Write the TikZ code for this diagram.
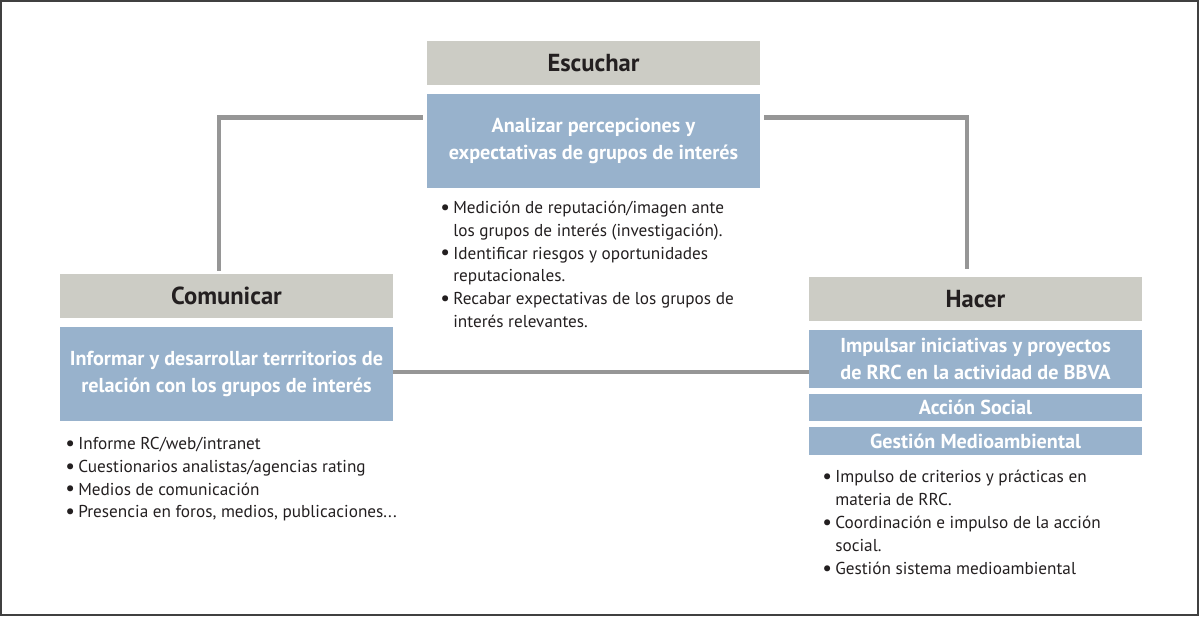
\documentclass[tikz,border=0pt]{standalone}
\usepackage{fontspec}
\setmainfont{PT Sans}
\usetikzlibrary{positioning}

\definecolor{headgray}{RGB}{204,204,197}
\definecolor{boxblue}{RGB}{152,178,204}
\definecolor{linkgray}{RGB}{150,150,150}
\definecolor{textdark}{RGB}{35,31,32}

\newcommand{\bul}{\makebox[7.4pt][l]{\raisebox{-0.5pt}{\scalebox{1.25}{\textbullet}}}}

\tikzstyle{head} = [rectangle, minimum width=6.66cm, minimum height=0.88cm, text centered, fill=headgray, text=textdark, font=\fontsize{14}{16}\selectfont\bfseries]
\tikzstyle{task} = [rectangle, minimum width=6.66cm, text centered, align=center, fill=boxblue, text=white, font=\fontsize{11.5}{15.3}\selectfont\bfseries]
\tikzstyle{items} = [anchor=north west, inner sep=0pt, text=textdark, font=\fontsize{9.8}{13}\selectfont]
\tikzstyle{link} = [line width=2.8pt, draw=linkgray]

\begin{document}
\begin{tikzpicture}[x=0.02cm, y=-0.02cm]

    \useasboundingbox (0,0) rectangle (1199,616);
    \draw [line width=0.8pt, draw=black!75] (1,1) rectangle (1198,615);

    % Nodes
    \node (eschead) [head] at (593.5,63) {Escuchar};
    \node (anabox) [task, minimum height=1.88cm] at (593.5,141) {Analizar percepciones y\\expectativas de grupos de interés};
    \node (esclist) [items] at (440,197) {\begin{tabular}{@{}l@{}l@{}}
        \bul & Medición de reputación/imagen ante\\ & los grupos de interés (investigación).\\
        \bul & Identificar riesgos y oportunidades\\ & reputacionales.\\
        \bul & Recabar expectativas de los grupos de\\ & interés relevantes.
        \end{tabular}};

    \node (comhead) [head] at (226.5,296) {Comunicar};
    \node (combox) [task, minimum height=1.88cm] at (226.5,374) {Informar y desarrollar terrritorios de\\relación con los grupos de interés};
    \node (comlist) [items] at (65,433) {\begin{tabular}{@{}l@{}l@{}}
        \bul & Informe RC/web/intranet\\
        \bul & Cuestionarios analistas/agencias rating\\
        \bul & Medios de comunicación\\
        \bul & Presencia en foros, medios, publicaciones...
        \end{tabular}};

    \node (hachead) [head] at (975.5,299) {Hacer};
    \node (hacbox) [task, minimum height=1.16cm] at (975.5,359) {Impulsar iniciativas y proyectos\\de RRC en la actividad de BBVA};
    \node (social) [task, minimum height=0.54cm, inner sep=0pt] at (975.5,407.5) {Acción Social};
    \node (medio) [task, minimum height=0.56cm, inner sep=0pt] at (975.5,441) {Gestión Medioambiental};
    \node (haclist) [items] at (822,466.5) {\begin{tabular}{@{}l@{}l@{}}
        \bul & Impulso de criterios y prácticas en\\ & materia de RRC.\\
        \bul & Coordinación e impulso de la acción\\ & social.\\
        \bul & Gestión sistema medioambiental
        \end{tabular}};

    % Arrows
    \draw [link, shorten <=1.7pt, shorten >=2.3pt] ([xshift=-0.15cm]comhead.north) |- ([yshift=0.47cm]anabox.west);
    \draw [link, shorten <=2.3pt, shorten >=4.5pt] ([yshift=0.47cm]anabox.east) -| ([xshift=-0.17cm]hachead.north);
    \draw [link] ([yshift=0.04cm]combox.east) -- ([yshift=0.04cm]combox.east -| hacbox.west);

\end{tikzpicture}
\end{document}
